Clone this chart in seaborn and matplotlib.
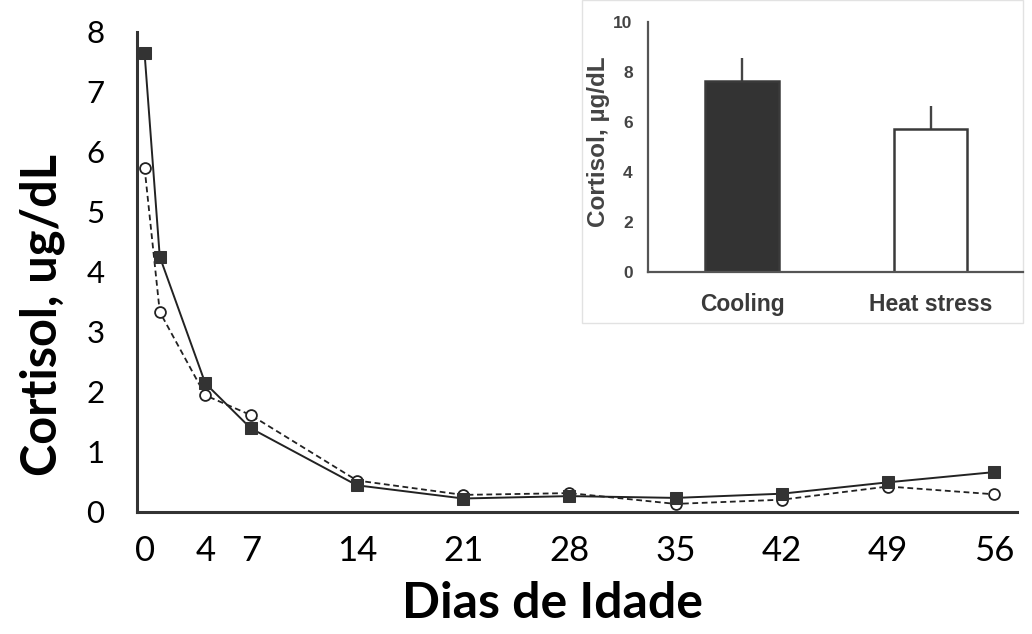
import numpy as np
import pandas as pd
import matplotlib
matplotlib.use("Agg")
import matplotlib.pyplot as plt
import matplotlib.patches as mpatches
import seaborn as sns

# ---- data ----
days = [0, 1, 4, 7, 14, 21, 28, 35, 42, 49, 56]
cooling = [7.64, 4.25, 2.14, 1.39, 0.44, 0.22, 0.26, 0.23, 0.30, 0.49, 0.66]
heat_stress = [5.73, 3.33, 1.94, 1.61, 0.52, 0.28, 0.31, 0.13, 0.20, 0.42, 0.29]
x_tick_labels = [0, 4, 7, 14, 21, 28, 35, 42, 49, 56]
y_ticks_main = [0, 1, 2, 3, 4, 5, 6, 7, 8]

inset_categories = ["Cooling", "Heat stress"]
inset_means = [7.64, 5.70]
inset_errors = [0.89, 0.93]
inset_yticks = [0, 2, 4, 6, 8, 10]

sns.set_theme(style="white")
plt.rcParams['font.family'] = ['Lato', 'DejaVu Sans']

W, H = 1032, 634
fig = plt.figure(figsize=(W / 100, H / 100), dpi=100)
fig.patch.set_facecolor("white")

# main axes
x0, x1 = 137, 1017
y0, y1 = 511.7, 31.7
ax = fig.add_axes([x0 / W, (H - y0) / H, (x1 - x0) / W, (y0 - y1) / H])
ax.set_facecolor("white")

df = pd.DataFrame({"day": days, "cooling": cooling, "heat": heat_stress})
sns.lineplot(data=df, x="day", y="heat", ax=ax, color="#222222", linewidth=1.3,
             linestyle=(0, (3.2, 2)), marker="o", markersize=7.8,
             markerfacecolor="white", markeredgecolor="#222222",
             markeredgewidth=1.3, zorder=3)
sns.lineplot(data=df, x="day", y="cooling", ax=ax, color="#222222", linewidth=1.4,
             linestyle="-", marker="s", markersize=9,
             markerfacecolor="#333333", markeredgecolor="#333333", zorder=4)

ax.set_xlim(-0.5, 57.5)
ax.set_ylim(0, 8)
for s in ["top", "right"]:
    ax.spines[s].set_visible(False)
for s in ["left", "bottom"]:
    ax.spines[s].set_color("#333333")
    ax.spines[s].set_linewidth(2.2)

ax.set_xticks(x_tick_labels)
ax.set_xticklabels([str(v) for v in x_tick_labels])
ax.set_xticks(np.arange(-0.5, 58, 1.0), minor=True)
ax.tick_params(axis="x", which="major", length=0, pad=17, labelsize=25, colors="black")
ax.tick_params(axis="x", which="minor", length=4.3, width=1.8, direction="out", color="#333333")
ax.set_yticks(y_ticks_main)
ax.tick_params(axis="y", which="major", length=7.5, width=1.4, direction="out",
               color="#444444", pad=16, labelsize=22.5, labelcolor="black")
ax.tick_params(axis="y", which="minor", length=0)

ax.set_xlabel("Dias de Idade", fontsize=36, fontweight="bold", color="black")
ax.xaxis.label.set_va("center")
ax.xaxis.set_label_coords((553 - x0) / (x1 - x0), (y0 - 604) / (y0 - y1))
ax.set_ylabel("Cortisol, ug/dL", fontsize=35, fontweight="bold", color="black")
ax.yaxis.label.set_va("center")
ax.yaxis.set_label_coords((42 - x0) / (x1 - x0), (y0 - 315) / (y0 - y1))

# inset frame
frame = mpatches.Rectangle((582 / W, (H - 323) / H), (1023 - 582) / W, 323 / H,
                           transform=fig.transFigure, facecolor="white",
                           edgecolor="#e2e2e2", linewidth=1.0, zorder=5)
fig.patches.append(frame)

# inset axes
ix0, ix1 = 648, 1023
iy0, iy1 = 271.7, 21.7
ax2 = fig.add_axes([ix0 / W, (H - iy0) / H, (ix1 - ix0) / W, (iy0 - iy1) / H])
ax2.set_zorder(6)
ax2.patch.set_alpha(0)

idf = pd.DataFrame({"cat": inset_categories, "mean": inset_means})
sns.barplot(data=idf, x="cat", y="mean", hue="cat", palette=["#333333", "white"],
            edgecolor="#3a3a3a", linewidth=1.8, width=0.39, legend=False, ax=ax2,
            errorbar=None)
ax2.errorbar(x=[0, 1], y=inset_means, yerr=[[0, 0], inset_errors], fmt="none",
             ecolor="#444444", elinewidth=1.7, capsize=0, zorder=1)
for p in ax2.patches:
    p.set_zorder(2)

ax2.set_xlim(-0.5, 1.49)
ax2.set_ylim(0, 10)
ax2.set_yticks(inset_yticks)
for s in ["top", "right"]:
    ax2.spines[s].set_visible(False)
for s in ["left", "bottom"]:
    ax2.spines[s].set_color("#555555")
    ax2.spines[s].set_linewidth(1.6)
ax2.tick_params(axis="y", length=5, width=1.4, color="#555555", direction="out", pad=6)
ax2.tick_params(axis="x", length=0, pad=15)
for lab in ax2.get_yticklabels():
    lab.set_family(["Liberation Sans", "DejaVu Sans"])
    lab.set_fontsize(12.5)
    lab.set_fontweight("bold")
    lab.set_color("#444444")
for lab in ax2.get_xticklabels():
    lab.set_family(["Liberation Sans", "DejaVu Sans"])
    lab.set_fontsize(16.5)
    lab.set_fontweight("bold")
    lab.set_color("#3a3a3a")
ax2.set_xlabel("")
ax2.set_ylabel("Cortisol, µg/dL", fontsize=17.5, fontweight="bold", color="#444444",
               family=["Liberation Sans", "DejaVu Sans"])
ax2.yaxis.label.set_va("center")
ax2.yaxis.set_label_coords((598 - ix0) / (ix1 - ix0), (iy0 - 142) / (iy0 - iy1))

fig.savefig("out.png", dpi=100, facecolor="white")
